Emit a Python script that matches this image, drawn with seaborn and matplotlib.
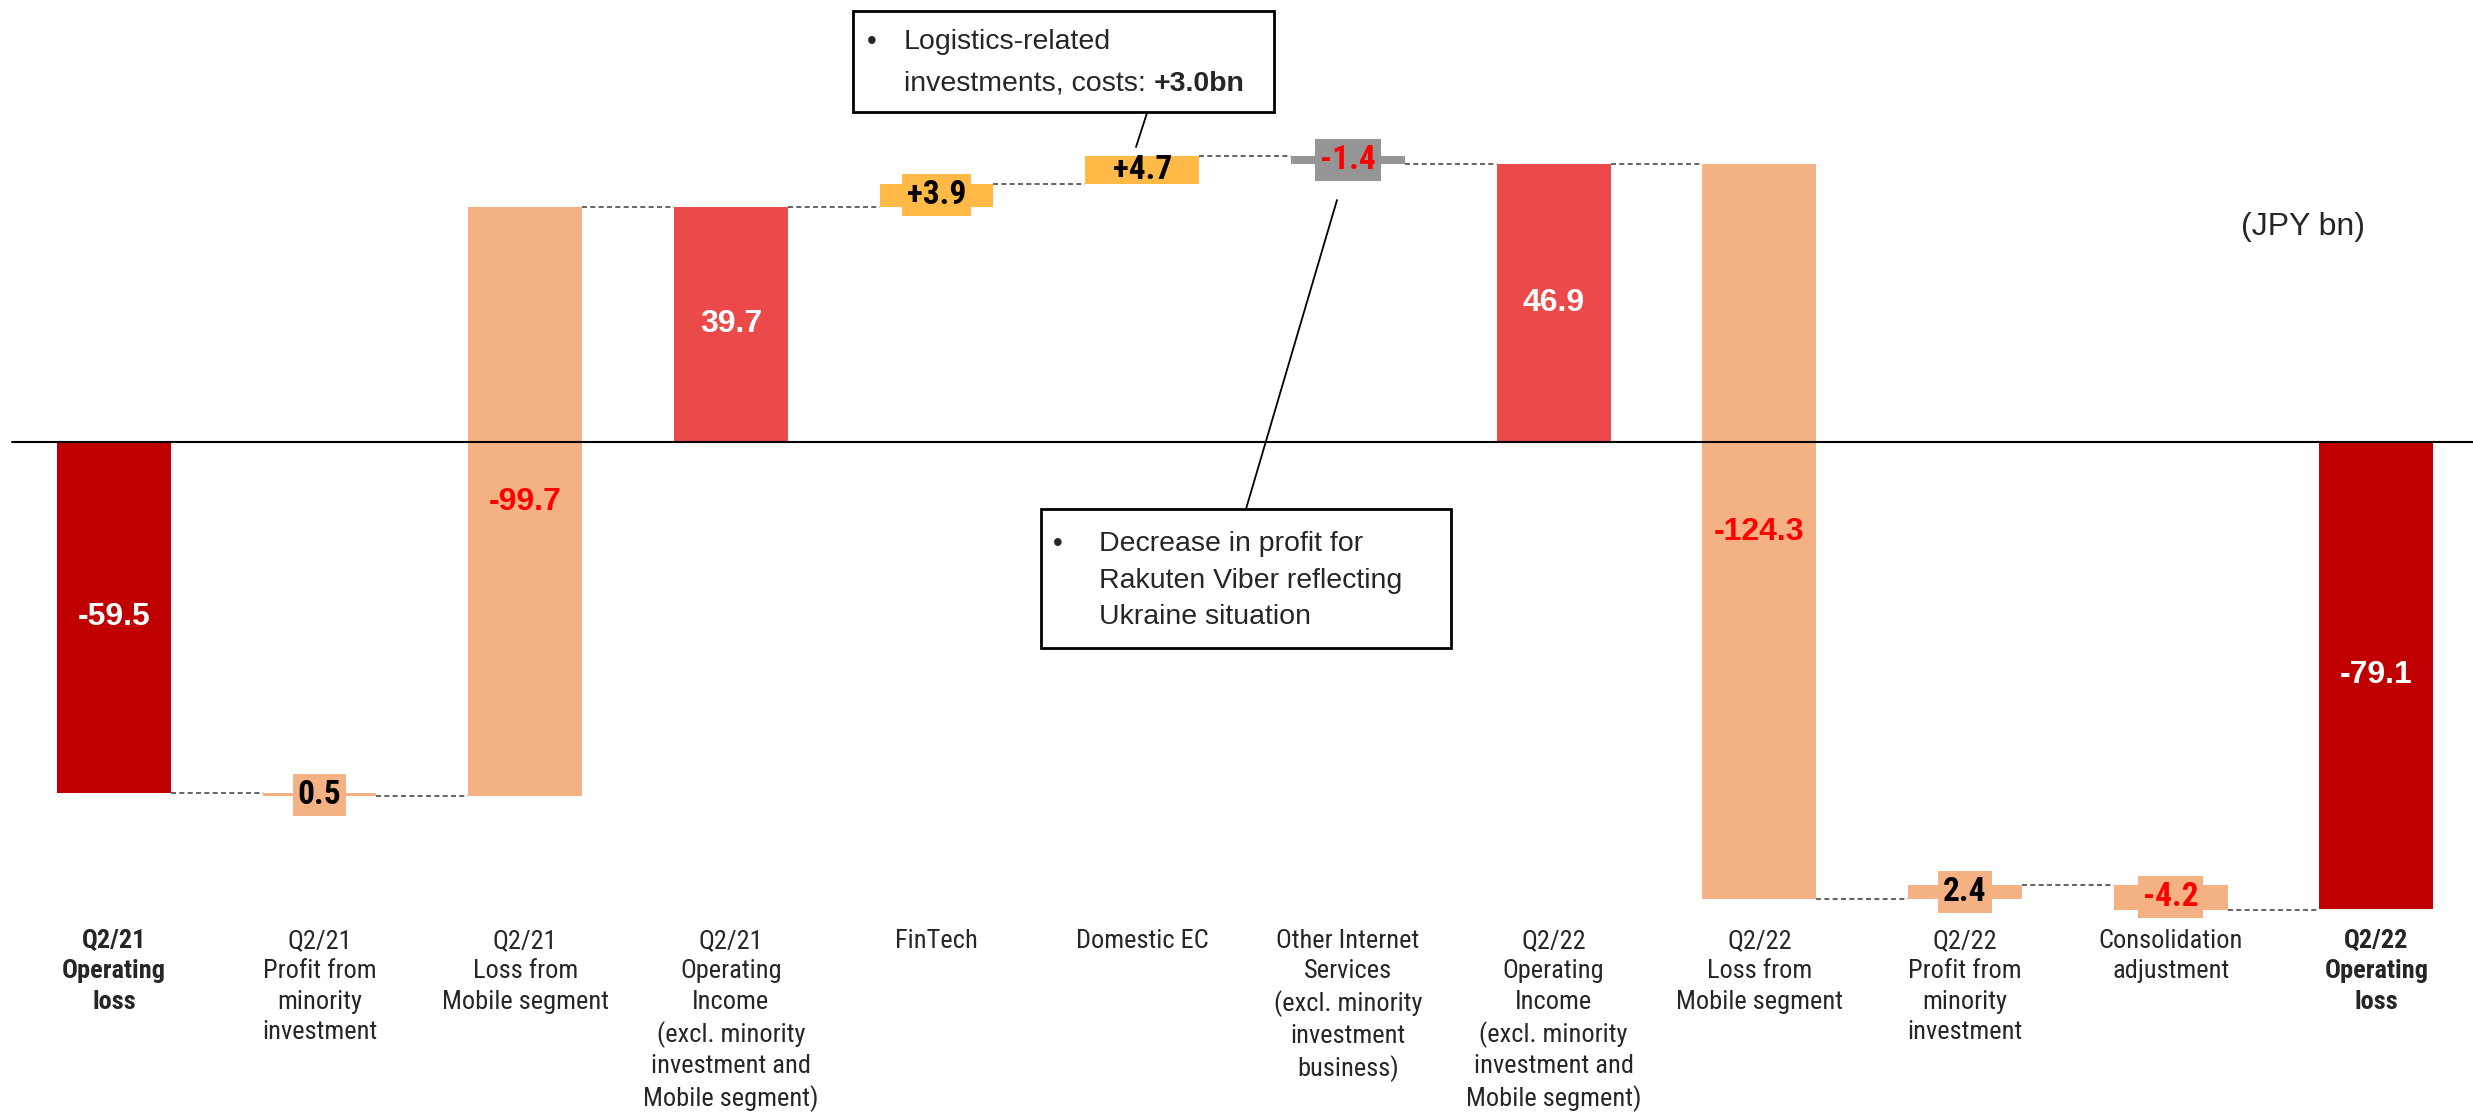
import matplotlib
matplotlib.use("Agg")
import matplotlib.pyplot as plt
import seaborn as sns
import pandas as pd
from matplotlib.patches import Rectangle
from matplotlib.lines import Line2D

# ---------------- data ----------------
categories = [
    "Q2/21\nOperating\nloss",
    "Q2/21\nProfit from\nminority\ninvestment",
    "Q2/21\nLoss from\nMobile segment",
    "Q2/21\nOperating\nIncome\n(excl. minority\ninvestment and\nMobile segment)",
    "FinTech",
    "Domestic EC",
    "Other Internet\nServices\n(excl. minority\ninvestment\nbusiness)",
    "Q2/22\nOperating\nIncome\n(excl. minority\ninvestment and\nMobile segment)",
    "Q2/22\nLoss from\nMobile segment",
    "Q2/22\nProfit from\nminority\ninvestment",
    "Consolidation\nadjustment",
    "Q2/22\nOperating\nloss",
]
values = [-59.5, 0.5, -99.7, 39.7, 3.9, 4.7, -1.4, 46.9, -124.3, 2.4, -4.2, -79.1]
value_labels = ["-59.5", "0.5", "-99.7", "39.7", "+3.9", "+4.7", "-1.4",
                "46.9", "-124.3", "2.4", "-4.2", "-79.1"]
# 0 = total bar from zero, +1 = forward step, -1 = reverse (decomposition) step
step_sign = [0, -1, -1, 0, 1, 1, 1, 0, 1, 1, 1, 0]
bold_category = [True] + [False] * 10 + [True]

DARK_RED = "#C00000"
RED = "#EC4A4A"
PEACH = "#F4B183"
ORANGE = "#FFB946"
GRAY = "#959595"
bar_colors = [DARK_RED, PEACH, PEACH, RED, ORANGE, ORANGE, GRAY, RED,
              PEACH, PEACH, PEACH, DARK_RED]
label_colors = ["white", "black", "#FF0000", "white", "black", "black", "#FF0000",
                "white", "#FF0000", "black", "#FF0000", "white"]
small_bar = [False, True, False, False, True, True, True, False, False, True, True, False]

# ---------------- waterfall geometry ----------------
lows, highs, levels = [], [], []
level = 0.0
for v, s in zip(values, step_sign):
    if s == 0:
        lo, hi = min(0, v), max(0, v)
        level = v
    else:
        new = level + s * v
        lo, hi = min(level, new), max(level, new)
        level = new
    lows.append(lo)
    highs.append(hi)
    levels.append(level)

df = pd.DataFrame({"cat": categories, "low": lows,
                   "height": [h - l for h, l in zip(highs, lows)]})

# ---------------- figure ----------------
sns.set_theme(style="white")
plt.rcParams["font.family"] = ["Liberation Sans", "DejaVu Sans"]
COND = ["Roboto Condensed", "Liberation Sans", "DejaVu Sans"]

W, H = 2473, 1117
fig = plt.figure(figsize=(W / 100, H / 100), dpi=100)
ax = fig.add_axes([0, 0.181, 1, 0.819])

BW = 0.553
sns.barplot(data=df, x="cat", y="height", bottom=df["low"], width=BW,
            errorbar=None, color=PEACH, ax=ax, linewidth=0, zorder=2)
for p, c in zip(ax.patches, bar_colors):
    p.set_facecolor(c)
    p.set_edgecolor("none")

ax.set_xlim(-0.554, 11.47)
ax.set_ylim(-80.05, 74.67)
for sp in ax.spines.values():
    sp.set_visible(False)
ax.set_yticks([])
ax.set_xlabel("")
ax.set_ylabel("")
ax.tick_params(axis="x", length=0, pad=10)
ax.set_xticks(range(len(categories)))
ax.set_xticklabels(categories, fontsize=19, linespacing=1.34, family=COND)
for t, b in zip(ax.get_xticklabels(), bold_category):
    t.set_multialignment("center")
    if b:
        t.set_fontweight("bold")

# zero line
ax.axhline(0, xmin=12 / W, xmax=1, color="black", lw=1.5, zorder=3)

# connectors
for i in range(len(values) - 1):
    ax.hlines(levels[i], i + BW / 2, i + 1 - BW / 2, colors="#4a4a4a",
              linestyles=(0, (3, 2)), lw=1.2, zorder=1)

# value labels
for i, (lo, hi) in enumerate(zip(lows, highs)):
    mid = (lo + hi) / 2
    if small_bar[i]:
        bbox = None
        if abs(values[i]) < 4.5:
            bbox = dict(boxstyle="square,pad=0.15", fc=bar_colors[i], ec="none")
        ax.text(i, mid, value_labels[i], ha="center", va="center",
                fontsize=24, fontweight="bold", color=label_colors[i],
                family=COND, bbox=bbox, zorder=4)
    else:
        ax.text(i, mid, value_labels[i], ha="center", va="center",
                fontsize=23, fontweight="bold", color=label_colors[i], zorder=4)


def fx(x):
    return x / W


def fy(y):
    return 1 - y / H


# unit label
fig.text(fx(2303), fy(227), "(JPY bn)", ha="center", va="center", fontsize=23)

# annotation box 1
fig.add_artist(Rectangle((fx(853), fy(112)), fx(1274) - fx(853), fy(11) - fy(112),
                         transform=fig.transFigure, fill=False, ec="black", lw=2, zorder=5))
fig.text(fx(872), fy(42), "•", ha="center", va="center", fontsize=20)
fig.text(fx(904), fy(42), "Logistics-related", ha="left", va="center", fontsize=20.5)
t2 = fig.text(fx(904), fy(84), "investments, costs: ", ha="left", va="center", fontsize=20.5)
ax.annotate("+3.0bn", xy=(1, 0.5), xycoords=t2, ha="left", va="center",
            fontsize=20.5, fontweight="bold", annotation_clip=False)
fig.add_artist(Line2D([fx(1147), fx(1136)], [fy(113), fy(147)], transform=fig.transFigure,
                      color="black", lw=1.3))

# annotation box 2
fig.add_artist(Rectangle((fx(1041), fy(648)), fx(1451) - fx(1041), fy(509) - fy(648),
                         transform=fig.transFigure, fill=False, ec="black", lw=2, zorder=5))
fig.text(fx(1058), fy(544), "•", ha="center", va="center", fontsize=20)
for k, line in enumerate(["Decrease in profit for", "Rakuten Viber reflecting", "Ukraine situation"]):
    fig.text(fx(1099), fy(544 + 36.5 * k), line, ha="left", va="center", fontsize=20.5)
fig.add_artist(Line2D([fx(1337), fx(1246)], [fy(200), fy(509)], transform=fig.transFigure,
                      color="black", lw=1.3))

fig.savefig("out.png", dpi=100, facecolor="white")
